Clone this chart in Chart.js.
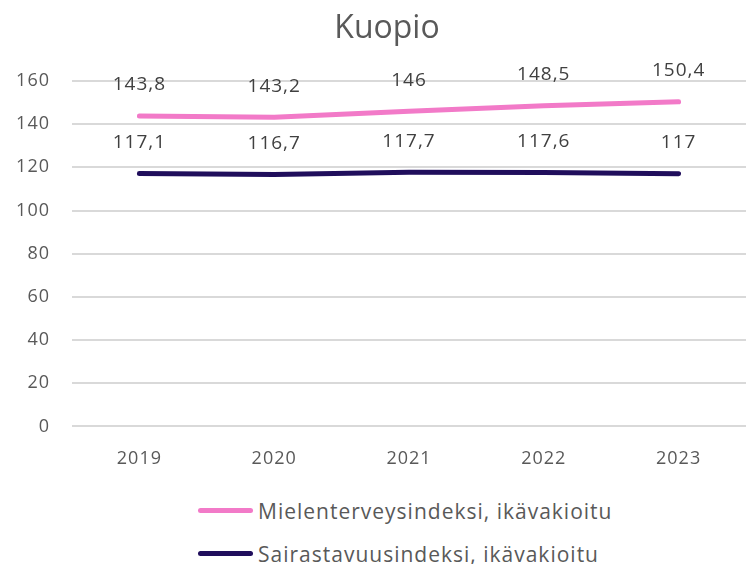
<!DOCTYPE html>
<html>
<head>
<meta charset="utf-8">
<script src="https://cdn.jsdelivr.net/npm/chart.js@4.4.1/dist/chart.umd.min.js"></script>
<style>
  html, body { margin: 0; padding: 0; background: #fff; }
  body { width: 746px; height: 564px; overflow: hidden; position: relative; font-family: "Open Sans", sans-serif; }
  #wrap { position: absolute; left: 0; top: 0; width: 746px; height: 484px; }
  #title { position: absolute; left: 287px; width: 200px; top: 4px; text-align: center; color: #595959; font-size: 32px; }
  #legend { position: absolute; left: 198px; top: 489px; }
  .leg { display: flex; align-items: center; height: 43px; color: #595959; font-size: 21px; letter-spacing: 1px; }
  .leg span.sw { display: inline-block; width: 55px; height: 5px; border-radius: 3px; margin-right: 5px; }
</style>
</head>
<body>
<div id="wrap"><canvas id="chart"></canvas></div>
<div id="title">Kuopio</div>
<div id="legend"></div>
<script>
// ── Datos ───────────────────────────────────────────────
const vuodet = ['2019', '2020', '2021', '2022', '2023'];
const mielenterveys = [143.8, 143.2, 146, 148.5, 150.4];
const sairastavuus = [117.1, 116.7, 117.7, 117.6, 117];
const sarjat = ['Mielenterveysindeksi, ikävakioitu', 'Sairastavuusindeksi, ikävakioitu'];
const yTicks = [0, 20, 40, 60, 80, 100, 120, 140, 160];

const colores = ['#f27ac8', '#200e5c'];
const harmaa = '#595959';

// etiquetas de valores encima de cada punto
const etiquetas = {
    id: 'etiquetas',
    afterDatasetsDraw(chart) {
        const ctx = chart.ctx;
        ctx.save();
        ctx.font = '19px "Open Sans"';
        ctx.letterSpacing = '1px';
        ctx.fillStyle = '#404040';
        ctx.textAlign = 'center';
        ctx.textBaseline = 'middle';
        chart.data.datasets.forEach((ds, i) => {
            chart.getDatasetMeta(i).data.forEach((pt, j) => {
                ctx.fillText(String(ds.data[j]).replace('.', ','), pt.x, pt.y - 31);
            });
        });
        ctx.restore();
    }
};

// espaciado entre letras para los ticks
const espaciado = {
    id: 'espaciado',
    beforeDraw(chart) { chart.ctx.letterSpacing = '1px'; }
};

const chart = new Chart(document.getElementById('chart'), {
    type: 'line',
    data: {
        labels: vuodet,
        datasets: [
            { label: sarjat[0], data: mielenterveys, borderColor: colores[0], backgroundColor: colores[0] },
            { label: sarjat[1], data: sairastavuus, borderColor: colores[1], backgroundColor: colores[1] }
        ]
    },
    options: {
        responsive: true,
        maintainAspectRatio: false,
        animation: false,
        layout: { padding: { left: 4, right: 0, top: 81, bottom: 0 } },
        elements: {
            line: { borderWidth: 5, borderCapStyle: 'round', tension: 0 },
            point: { radius: 0, hoverRadius: 0 }
        },
        plugins: {
            legend: { display: false },
            tooltip: { enabled: false },
            title: { display: false }
        },
        scales: {
            x: {
                offset: true,
                grid: { display: false },
                border: { display: false },
                ticks: { color: harmaa, font: { family: 'Open Sans', size: 18 }, padding: 14 }
            },
            y: {
                min: 0,
                max: 160,
                afterBuildTicks: s => { s.ticks = yTicks.map(v => ({ value: v })); },
                afterFit: s => { s.width = 68; },
                grid: { color: '#d9d9d9', lineWidth: 2, drawTicks: false },
                border: { display: false },
                ticks: { color: harmaa, font: { family: 'Open Sans', size: 18 }, padding: 22 }
            }
        }
    },
    plugins: [espaciado, etiquetas]
});

// leyenda en HTML (dos filas)
document.getElementById('legend').innerHTML = sarjat.map((s, i) =>
    `<div class="leg"><span class="sw" style="background:${colores[i]}"></span>${s}</div>`
).join('');
</script>
</body>
</html>
